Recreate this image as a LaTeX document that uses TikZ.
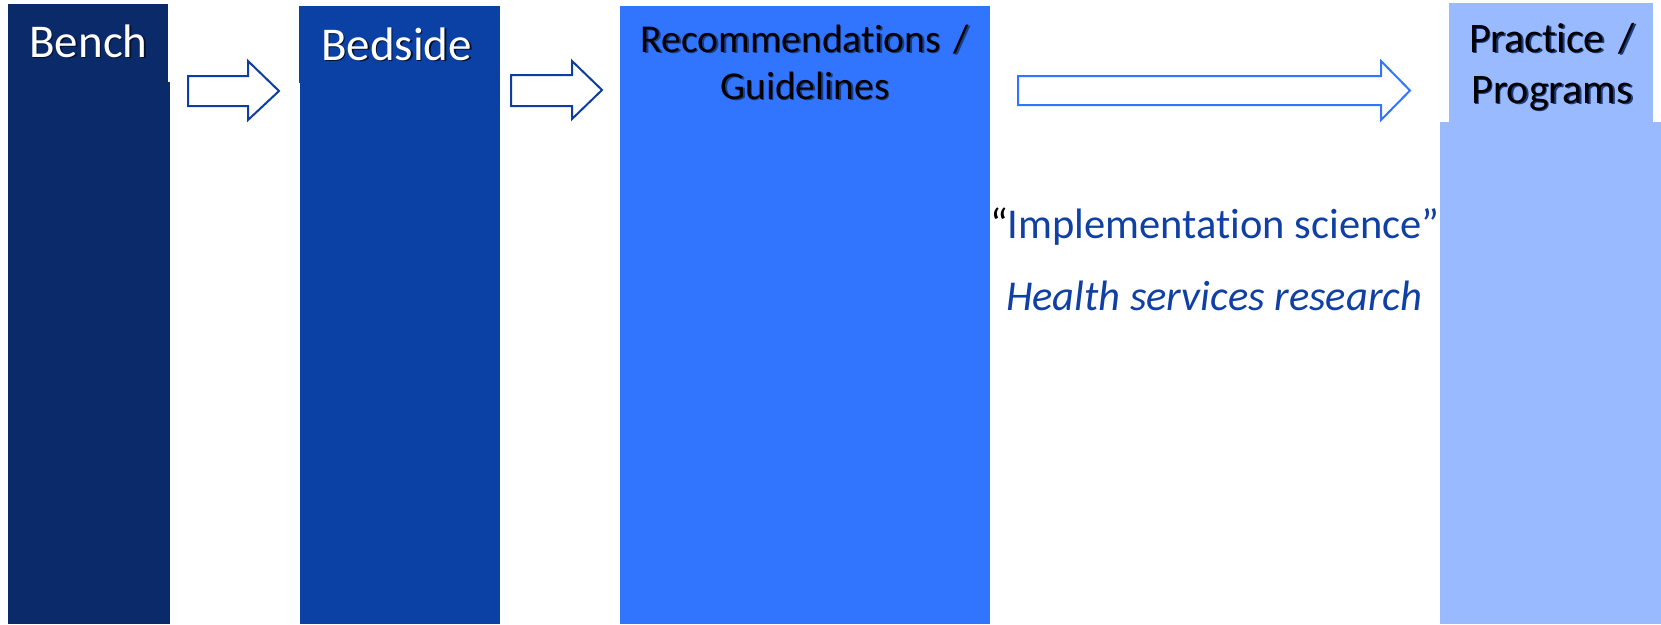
\documentclass[tikz,border=0pt]{standalone}
\usepackage{fontspec}
\setmainfont[Ligatures=NoCommon]{Carlito}

\definecolor{benchblue}{HTML}{0B2A6A}
\definecolor{bedsideblue}{HTML}{0B40A4}
\definecolor{recblue}{HTML}{3175FF}
\definecolor{practiceblue}{HTML}{99BAFF}
\definecolor{arrowdark}{HTML}{0B3EA0}
\definecolor{arrowlight}{HTML}{3375FF}
\definecolor{labelblue}{HTML}{1040A3}
\definecolor{darkshade}{HTML}{04122F}
\definecolor{lightshade}{HTML}{1A3C85}

% text with a soft drop shadow underneath
\newcommand\shadowed[2]{\leavevmode\rlap{\hspace{1.6pt}\raisebox{-1.6pt}{\textcolor{#1}{#2}}}#2}

\begin{document}
\begin{tikzpicture}[x=1pt,y=-1pt,
  every node/.style={inner sep=0pt,outer sep=0pt},
  colbox/.style={draw=none,anchor=north west,minimum width=#1},
  blockarrow/.style={draw=#1,line width=2pt,fill=white,line join=miter},
  headtext/.style={anchor=base,align=center}]

\useasboundingbox (0,0) rectangle (1661,624);
\fill[white] (0,0) rectangle (1661,624);

% columns
\node[colbox=160,fill=benchblue,minimum height=78] (benchhead) at (8,4) {};
\node[colbox=162,fill=benchblue,minimum height=542] (benchbody) at (8,82) {};
\node[colbox=201,fill=bedsideblue,minimum height=77] (bedsidehead) at (299,6) {};
\node[colbox=200,fill=bedsideblue,minimum height=541] (bedsidebody) at (300,83) {};
\node[colbox=370,fill=recblue,minimum height=618] (recbody) at (620,6) {};
\node[colbox=204,fill=practiceblue,minimum height=119] (practicehead) at (1449,3) {};
\node[colbox=221,fill=practiceblue,minimum height=502] (practicebody) at (1440,122) {};

% block arrows between the columns
\draw[blockarrow=arrowdark] (188,76) -- (248,76) -- (248,61) -- (279,91)
  -- (248,120) -- (248,106) -- (188,106) -- cycle;
\draw[blockarrow=arrowdark] (511,75) -- (572,75) -- (572,61) -- (602,90)
  -- (572,119) -- (572,106) -- (511,106) -- cycle;
\draw[blockarrow=arrowlight] (1018,76) -- (1381,76) -- (1381,61) -- (1410,90.5)
  -- (1381,120) -- (1381,105) -- (1018,105) -- cycle;

% column titles
\node[headtext,text=white,font=\fontsize{47}{56}\selectfont] (benchlabel)
  at (88.5,57) {\shadowed{darkshade}{Bench}};
\node[headtext,text=white,font=\fontsize{47}{56}\selectfont] (bedsidelabel)
  at (396.5,60) {\shadowed{darkshade}{Bedside}};
\node[headtext,text=black,text width=370pt,font=\fontsize{39.5}{47}\selectfont] (reclabel)
  at (805,52) {\shadowed{lightshade}{Recommendations /}\\\shadowed{lightshade}{Guidelines}};
\node[headtext,text=black,text width=204pt,font=\fontsize{42}{51}\selectfont] (practicelabel)
  at (1552,52) {\shadowed{lightshade}{Practice /}\\\shadowed{lightshade}{Programs}};

% research labels
\node[anchor=base west,text=labelblue,font=\fontsize{42.5}{50}\selectfont] (implabel)
  at (990,238) {\textcolor{black}{“}Implementation science”};
\node[anchor=base west,text=labelblue,font=\fontsize{42.5}{50}\selectfont\itshape] (hsrlabel)
  at (1006,310) {Health services research};
\end{tikzpicture}
\end{document}
